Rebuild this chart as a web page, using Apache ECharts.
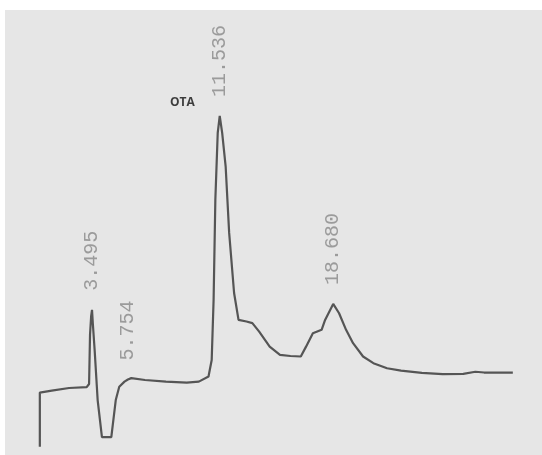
<!DOCTYPE html>
<html>
<head>
<meta charset="utf-8">
<script src="https://cdn.jsdelivr.net/npm/echarts@6/dist/echarts.min.js"></script>
<style>
  html, body { margin: 0; padding: 0; background: #ffffff; width: 542px; height: 455px; overflow: hidden; }
  #chart { position: absolute; left: 5px; top: 10px; width: 537px; height: 445px; background: #e6e6e6; }
</style>
</head>
<body>
<div id="chart"></div>
<script>
// Retention time (min) and detector signal (arbitrary units) of the chromatogram trace
const times = [0.21, 0.21, 0.96, 2.05, 3.16, 3.31, 3.37, 3.44, 3.495, 3.55, 3.66, 3.85, 4.12, 4.71, 4.99,
  5.21, 5.54, 5.754, 5.97, 6.83, 8.15, 9.46, 10.22, 10.83, 11.03, 11.15, 11.26, 11.41, 11.536, 11.69,
  11.91, 12.13, 12.44, 12.72, 13.22, 13.59, 14.02, 14.68, 15.33, 15.99, 16.64, 16.97, 17.40, 17.95,
  18.17, 18.68, 19.05, 19.49, 19.93, 20.56, 21.21, 22.07, 22.95, 24.26, 25.57, 26.87, 27.63, 28.18, 29.99];
const signal = [-23.9, -3.6, -2.9, -1.9, -1.6, -0.4, 18.0, 25.0, 27.4, 22.0, 12.4, -6.4, -20.3, -20.3, -6.4,
  -1.4, 0.5, 1.3, 1.8, 1.1, 0.5, 0.1, 0.5, 2.4, 8.6, 31.1, 68.6, 93.7, 100, 93.7,
  81.0, 56.2, 33.7, 23.6, 23.0, 22.4, 19.2, 13.6, 10.5, 10.1, 9.9, 13.6, 18.6, 19.9,
  23.6, 29.6, 26.1, 19.9, 14.9, 9.9, 7.4, 5.5, 4.6, 3.8, 3.3, 3.4, 4.2, 3.9, 3.9];

// Integrated peak retention times printed above the trace
const peakTimes = [3.495, 5.754, 11.536, 18.680];

// Named compound
const compoundName = 'OTA';
const compoundTime = 11.536;

// signal value at a given retention time (linear between recorded samples)
function signalAt(t) {
  for (let i = 1; i < times.length; i++) {
    if (t <= times[i] && times[i] > times[i - 1]) {
      const f = (t - times[i - 1]) / (times[i] - times[i - 1]);
      return signal[i - 1] + f * (signal[i] - signal[i - 1]);
    }
  }
  return signal[signal.length - 1];
}

const trace = times.map((t, i) => [t, signal[i]]);

const chart = echarts.init(document.getElementById('chart'), null, { renderer: 'canvas' });
chart.setOption({
  backgroundColor: 'transparent',
  animation: false,
  grid: { left: 31.5, right: 29, top: 106, bottom: 8 },
  xAxis: { type: 'value', min: 0, max: 30, show: false },
  yAxis: { type: 'value', min: -24, max: 100, show: false },
  series: [
    {
      type: 'line',
      data: trace,
      showSymbol: false,
      silent: true,
      lineStyle: { color: '#555555', width: 2.2 }
    },
    {
      type: 'scatter',
      silent: true,
      symbolSize: 0,
      data: peakTimes.map(t => ({ value: [t, signalAt(t)], name: t.toFixed(3) })),
      label: {
        show: true,
        formatter: '{b}',
        rotate: 90,
        position: 'top',
        distance: 19,
        align: 'left',
        verticalAlign: 'middle',
        fontFamily: 'Liberation Mono',
        fontSize: 20,
        color: '#888888'
      }
    },
    {
      type: 'scatter',
      silent: true,
      symbolSize: 0,
      data: [{ value: [compoundTime, signalAt(compoundTime)], name: compoundName }],
      label: {
        show: true,
        formatter: '{b}',
        position: 'left',
        distance: 25,
        offset: [0, -13],
        fontFamily: 'Open Sans',
        fontWeight: 'bold',
        fontSize: 12,
        color: '#111111'
      }
    }
  ]
});
</script>
</body>
</html>
